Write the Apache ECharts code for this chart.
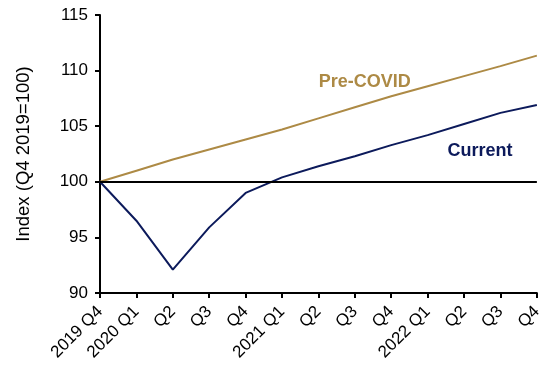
<!DOCTYPE html>
<html><head><meta charset="utf-8">
<script src="https://cdn.jsdelivr.net/npm/echarts@6/dist/echarts.min.js"></script>
<style>html,body{margin:0;padding:0;background:#fff}#c{width:545px;height:370px}</style>
</head><body><div id="c"></div>
<script>
var categories = ['2019 Q4','2020 Q1','2020 Q2','2020 Q3','2020 Q4','2021 Q1','2021 Q2','2021 Q3','2021 Q4','2022 Q1','2022 Q2','2022 Q3','2022 Q4'];
var tickLabels = ['2019 Q4','2020 Q1','Q2','Q3','Q4','2021 Q1','Q2','Q3','Q4','2022 Q1','Q2','Q3','Q4'];
var preCovid = [100, 101.0, 102.0, 102.9, 103.8, 104.7, 105.7, 106.7, 107.7, 108.6, 109.5, 110.4, 111.35];
var current = [100, 96.5, 92.1, 95.9, 99.0, 100.4, 101.4, 102.3, 103.3, 104.2, 105.2, 106.2, 106.9];
var baseline = 100;
var yTicks = {min: 90, max: 115, interval: 5};
var gold = '#AD8A45', navy = '#0C1A5B';
var font = 'Arial, "Liberation Sans", sans-serif';
var chart = echarts.init(document.getElementById('c'), null, {renderer: 'canvas'});
chart.setOption({
  animation: false,
  grid: {left: 100, right: 7, top: 15, bottom: 77, containLabel: false},
  xAxis: {
    type: 'category', data: categories, boundaryGap: false,
    axisLine: {lineStyle: {color: '#000', width: 2}},
    axisTick: {show: true, length: 5, interval: 0, lineStyle: {color: '#000', width: 2}},
    axisLabel: {interval: 0, rotate: 45, margin: 16, color: '#000', fontSize: 17, fontFamily: font,
      formatter: function (v, i) { return tickLabels[i]; }},
    splitLine: {show: false}
  },
  yAxis: {
    type: 'value', min: yTicks.min, max: yTicks.max, interval: yTicks.interval,
    name: 'Index (Q4 2019=100)', nameLocation: 'middle', nameGap: 67,
    nameTextStyle: {color: '#000', fontSize: 18.5, fontFamily: font},
    axisLine: {show: true, lineStyle: {color: '#000', width: 2}},
    axisTick: {show: true, length: 5, lineStyle: {color: '#000', width: 2}},
    axisLabel: {color: '#000', fontSize: 17, fontFamily: font, margin: 12},
    splitLine: {show: false}
  },
  series: [
    {name: 'Pre-COVID', type: 'line', data: preCovid, showSymbol: false, symbol: 'none',
     lineStyle: {color: gold, width: 2}, itemStyle: {color: gold}, z: 3,
     markPoint: {symbol: 'circle', symbolSize: 0, silent: true,
       label: {show: true, formatter: 'Pre-COVID', color: gold, fontSize: 18, fontWeight: 'bold', fontFamily: font, position: 'inside', offset: [10, 0]},
       data: [{coord: ['2021 Q3', 108.95]}]}
    },
    {name: 'Current', type: 'line', data: current, showSymbol: false, symbol: 'none',
     lineStyle: {color: navy, width: 2}, itemStyle: {color: navy}, z: 4,
     markLine: {symbol: 'none', silent: true, label: {show: false},
       lineStyle: {color: '#000', width: 2, type: 'solid'},
       data: [{yAxis: baseline}]},
     markPoint: {symbol: 'circle', symbolSize: 0, silent: true,
       label: {show: true, formatter: 'Current', color: navy, fontSize: 18, fontWeight: 'bold', fontFamily: font, position: 'inside', offset: [16, 0]},
       data: [{coord: ['2022 Q2', 102.73]}]}
    }
  ]
});
</script></body></html>
